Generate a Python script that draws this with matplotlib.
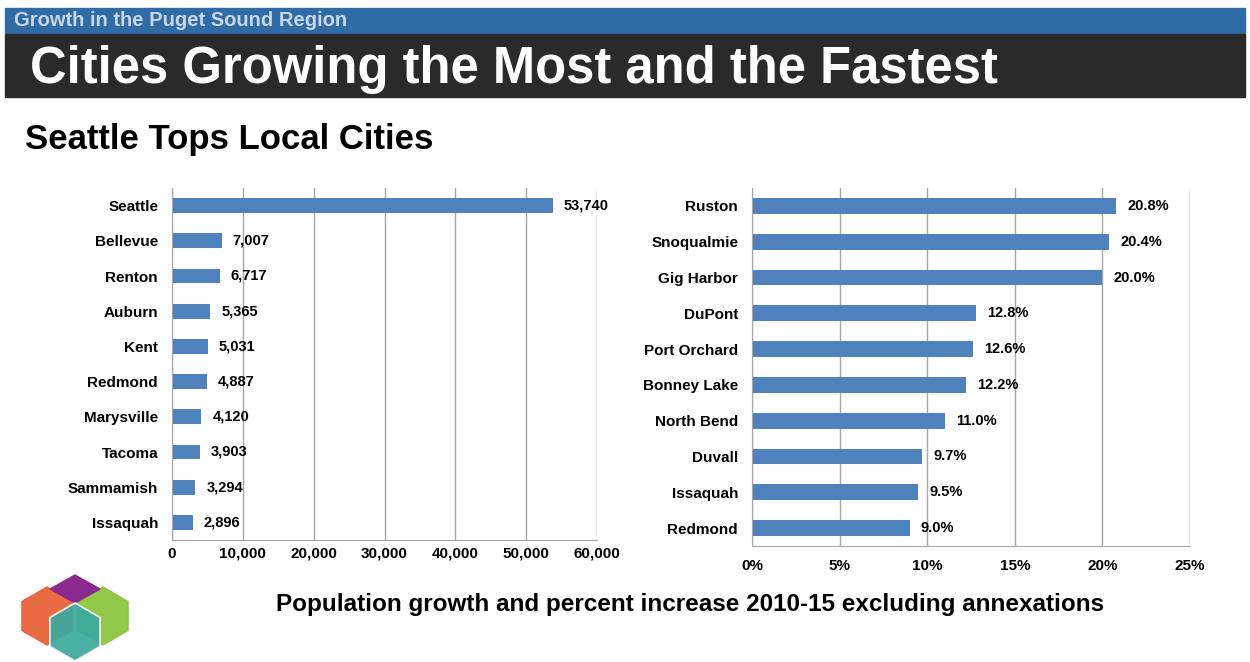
import matplotlib.pyplot as plt
from matplotlib.patches import Polygon, Rectangle
import numpy as np

plt.rcParams['font.family'] = ['Liberation Sans', 'DejaVu Sans']

# left chart: absolute growth
cities_abs = ['Seattle', 'Bellevue', 'Renton', 'Auburn', 'Kent', 'Redmond',
              'Marysville', 'Tacoma', 'Sammamish', 'Issaquah']
growth_abs = [53740, 7007, 6717, 5365, 5031, 4887, 4120, 3903, 3294, 2896]

# right chart: percent growth
cities_pct = ['Ruston', 'Snoqualmie', 'Gig Harbor', 'DuPont', 'Port Orchard',
              'Bonney Lake', 'North Bend', 'Duvall', 'Issaquah', 'Redmond']
growth_pct = [20.8, 20.4, 20.0, 12.8, 12.6, 12.2, 11.0, 9.7, 9.5, 9.0]

W, H = 1250, 662
BAR = '#4F81BD'
GRID = '#A6A6A6'

fig = plt.figure(figsize=(W / 100, H / 100), dpi=100)
fig.patch.set_facecolor('white')

# overlay axes in pixel coords for banners and logo
bg = fig.add_axes([0, 0, 1, 1], zorder=0)
bg.set_xlim(0, W)
bg.set_ylim(H, 0)
bg.axis('off')
bg.add_patch(Rectangle((5, 8), 1240, 25, color='#2F6CA6'))
bg.add_patch(Rectangle((5, 34), 1240, 63, color='#2A2A2A'))
bg.text(14, 21, 'Growth in the Puget Sound Region', color='#C9D5E2',
        fontsize=14.5, fontweight='bold', va='center')
bg.text(30, 69, 'Cities Growing the Most and the Fastest', color='white',
        fontsize=36.5, fontweight='bold', va='center')
bg.text(25, 140, 'Seattle Tops Local Cities', color='black',
        fontsize=25, fontweight='bold', va='center')
bg.text(690, 605, 'Population growth and percent increase 2010-15 excluding annexations',
        color='black', fontsize=17.5, fontweight='bold', va='center', ha='center')


# logo: overlapping hexagons
def hexagon(cx, cy, r):
    ang = np.radians([90, 150, 210, 270, 330, 30])
    return np.column_stack([cx + r * np.cos(ang), cy - r * np.sin(ang)])


bg.add_patch(Polygon(hexagon(47, 616, 29), closed=True, color='#E8633A', alpha=0.95))
bg.add_patch(Polygon(hexagon(103, 616, 29), closed=True, color='#8CC63F', alpha=0.95))
bg.add_patch(Polygon([(75, 575), (100, 589), (75, 603), (50, 589)], closed=True,
                     color='#8B2A8E'))
bg.add_patch(Polygon(hexagon(75, 632, 29), closed=True, color='#3AAA9E', alpha=0.92,
                     ec='white', lw=1.2))


def style(ax):
    for s in ['top', 'right']:
        ax.spines[s].set_visible(False)
    for s in ['left', 'bottom']:
        ax.spines[s].set_color(GRID)
    ax.grid(axis='x', color=GRID, lw=1)
    ax.set_axisbelow(True)
    ax.tick_params(length=0, labelsize=11, pad=10)
    for lab in ax.get_xticklabels() + ax.get_yticklabels():
        lab.set_fontweight('bold')


# left chart
ax1 = fig.add_axes([172 / W, 1 - 540 / H, 425 / W, 352 / H])
y1 = np.arange(len(cities_abs))
ax1.barh(y1, growth_abs, height=0.42, color=BAR)
ax1.set_ylim(len(cities_abs) - 0.5, -0.5)
ax1.set_xlim(0, 60000)
ax1.set_xticks(range(0, 60001, 10000))
ax1.set_xticklabels(['{:,}'.format(v) for v in range(0, 60001, 10000)])
ax1.set_yticks(y1)
ax1.set_yticklabels(cities_abs)
style(ax1)
ax1.tick_params(axis='x', pad=5)
for yy, v in zip(y1, growth_abs):
    ax1.annotate('{:,}'.format(v), (v, yy), xytext=(8, 0), textcoords='offset points',
                 va='center', fontsize=10.5, fontweight='bold')

# right chart
ax2 = fig.add_axes([752 / W, 1 - 546 / H, 438 / W, 358 / H])
y2 = np.arange(len(cities_pct))
ax2.barh(y2, growth_pct, height=0.44, color=BAR)
ax2.set_ylim(len(cities_pct) - 0.5, -0.5)
ax2.set_xlim(0, 25)
ax2.set_xticks(range(0, 26, 5))
ax2.set_xticklabels(['{}%'.format(v) for v in range(0, 26, 5)])
ax2.set_yticks(y2)
ax2.set_yticklabels(cities_pct)
style(ax2)
ax2.tick_params(axis='x', pad=9)
for yy, v in zip(y2, growth_pct):
    ax2.annotate('{:.1f}%'.format(v), (v, yy), xytext=(8, 0), textcoords='offset points',
                 va='center', fontsize=10.5, fontweight='bold')

fig.savefig('out.png', dpi=100)
